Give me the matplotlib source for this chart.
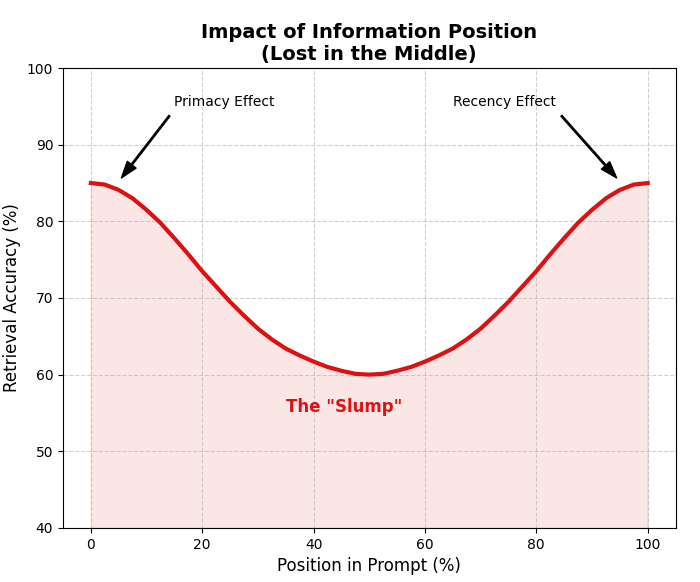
import matplotlib
matplotlib.use("Agg")
import matplotlib.pyplot as plt

# values
positions = [0, 2.5, 5, 7.5, 10, 12.5, 15, 17.5, 20, 22.5, 25, 27.5, 30, 32.5, 35, 37.5,
             40, 42.5, 45, 47.5, 50, 52.5, 55, 57.5, 60, 62.5, 65, 67.5, 70, 72.5, 75,
             77.5, 80, 82.5, 85, 87.5, 90, 92.5, 95, 97.5, 100]
half = [85, 84.8, 84.1, 83.0, 81.5, 79.8, 77.8, 75.7, 73.5, 71.5, 69.5, 67.7,
        66.0, 64.6, 63.4, 62.5, 61.7, 61.0, 60.5, 60.1, 60]
accuracy = half + half[-2::-1]

fig, ax = plt.subplots(figsize=(7, 5.82), dpi=100)
fig.subplots_adjust(left=0.09, right=0.965, top=0.883, bottom=0.093)
ax.plot(positions, accuracy, color="#dd1111", lw=3)
ax.fill_between(positions, accuracy, 40, color="#dd1111", alpha=0.1)

ax.set_ylim(40, 100)
ax.set_xlim(-5, 105)
ax.grid(True, ls="--", alpha=0.6)
ax.set_xlabel("Position in Prompt (%)", fontsize=12)
ax.set_ylabel("Retrieval Accuracy (%)", fontsize=12)
ax.set_title("Impact of Information Position\n(Lost in the Middle)", fontsize=14, fontweight="bold")

ax.annotate("Primacy Effect", xy=(5, 85.2), xytext=(15, 95),
            arrowprops=dict(facecolor="black", shrink=0.05, width=1, headwidth=8), fontsize=10)
ax.annotate("Recency Effect", xy=(95, 85.2), xytext=(65, 95),
            arrowprops=dict(facecolor="black", shrink=0.05, width=1, headwidth=8), fontsize=10)
ax.text(45.5, 55.8, 'The "Slump"', color="#dd1111", fontsize=12, fontweight="bold",
        ha="center", va="center")

fig.savefig("out.png")
